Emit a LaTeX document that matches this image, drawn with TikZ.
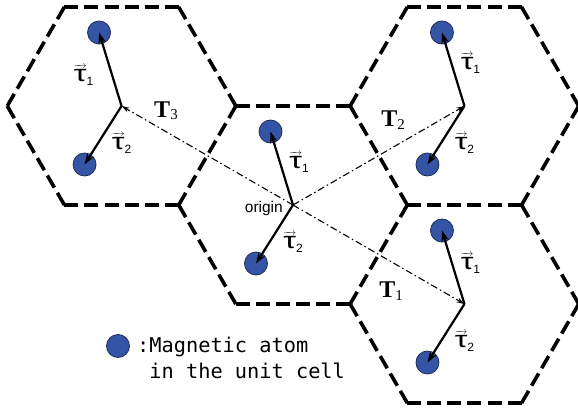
\documentclass[tikz,border=0pt]{standalone}
\usepackage{fontspec}
\usepackage{graphicx}
\setmainfont{Liberation Sans}
\newfontfamily\serifbf{Liberation Serif}
\newfontfamily\monofont{DejaVu Sans Mono}
\usetikzlibrary{calc,arrows.meta}
\definecolor{atomblue}{RGB}{52,84,166}
\definecolor{atomedge}{RGB}{35,45,90}
\tikzset{
 hexedge/.style={line width=3.6pt, dash pattern=on 14pt off 6.06pt, black},
 atom/.style={circle, fill=atomblue, draw=atomedge, line width=0.8pt, minimum size=23pt, inner sep=0pt},
 vec/.style={line width=2.2pt, -{Stealth[length=11pt,width=7.5pt]}},
 trans/.style={line width=1.1pt, dash pattern=on 7pt off 3pt on 1.5pt off 3pt, -{Stealth[length=8pt,width=5pt]}},
 taulab/.style={inner sep=0pt, font=\fontsize{23}{23}\selectfont},
 Tlab/.style={inner sep=0pt},
 legtext/.style={inner sep=0pt, anchor=base west, font=\monofont\fontsize{20.3}{20.3}\selectfont},
}
\newsavebox\taubox
\newcommand\tv[1]{\sbox\taubox{\scalebox{1.4}[1]{τ}}\leavevmode
  \rlap{\raisebox{\dimexpr\ht\taubox+0.8pt\relax}{\hbox to \wd\taubox{\fontsize{10}{10}\selectfont\rightarrowfill}}}%
  \usebox\taubox\raisebox{-0.3ex}{\fontsize{12}{12}\selectfont #1}}
\newcommand\Tv[1]{{\serifbf\bfseries\fontsize{24}{24}\selectfont T}\raisebox{-0.45ex}{\serifbf\fontsize{15}{15}\selectfont #1}}
\begin{document}
\begin{tikzpicture}[x=1pt,y=-1pt]
\useasboundingbox (0,0) rectangle (578,409);
\def\R{114.3}\def\Rh{57.15}\def\H{99}
\coordinate (A) at (121.55,106);
\coordinate (B) at (293,205);
\coordinate (C) at (464.45,106);
\coordinate (D) at (464.45,304);
\foreach \n in {A,B,C,D}{
  \coordinate (\n v0) at ($(\n)+(\R,0)$);
  \coordinate (\n v1) at ($(\n)+(\Rh,\H)$);
  \coordinate (\n v2) at ($(\n)+(-\Rh,\H)$);
  \coordinate (\n v3) at ($(\n)+(-\R,0)$);
  \coordinate (\n v4) at ($(\n)+(-\Rh,-\H)$);
  \coordinate (\n v5) at ($(\n)+(\Rh,-\H)$);
}
% hexagon edges, shared ones once
\foreach \a/\b in {Av0/Av1,Av1/Av2,Av2/Av3,Av3/Av4,Av4/Av5,Av5/Av0,
  Bv0/Bv1,Bv1/Bv2,Bv2/Bv3,Bv4/Bv5,Bv5/Bv0,
  Cv0/Cv1,Cv1/Cv2,Cv3/Cv4,Cv4/Cv5,Cv5/Cv0,
  Dv0/Dv1,Dv1/Dv2,Dv2/Dv3,Dv5/Dv0}
  \draw[hexedge] (\a) -- (\b);
% translation vectors
\draw[trans] (B) -- (A);
\draw[trans] (B) -- (C);
\draw[trans] (B) -- (D);
% atoms and basis vectors
\foreach \n in {A,B,C,D}{
  \node[atom] (\n a1) at ($(\n)+(-22.5,-73.5)$) {};
  \node[atom] (\n a2) at ($(\n)+(-37,58.5)$) {};
  \draw[vec] (\n) -- (\n a1.center);
  \draw[vec] (\n) -- (\n a2.center);
  \node[taulab] (\n t2) at ($(\n)+(0,37)$) {\tv{2}};
}
\node[taulab] (At1) at ($(A)+(-38,-31)$) {\tv{1}};
\node[taulab] (Bt1) at ($(B)+(6,-43)$) {\tv{1}};
\node[taulab] (Ct1) at ($(C)+(6,-43)$) {\tv{1}};
\node[taulab] (Dt1) at ($(D)+(6,-41)$) {\tv{1}};
% labels
\node[Tlab] (T3) at (166,111) {\Tv{3}};
\node[Tlab] (T2) at (393,120) {\Tv{2}};
\node[Tlab] (T1) at (391,291) {\Tv{1}};
\node[inner sep=0pt, anchor=base east, font=\fontsize{15.5}{15.5}\selectfont] (orig) at (283,212) {origin};
% legend
\node[atom] (leg) at (118,346) {};
\node[legtext] (l1) at (137,352) {:Magnetic atom};
\node[legtext] (l2) at (149.2,378) {in the unit cell};
\end{tikzpicture}
\end{document}
